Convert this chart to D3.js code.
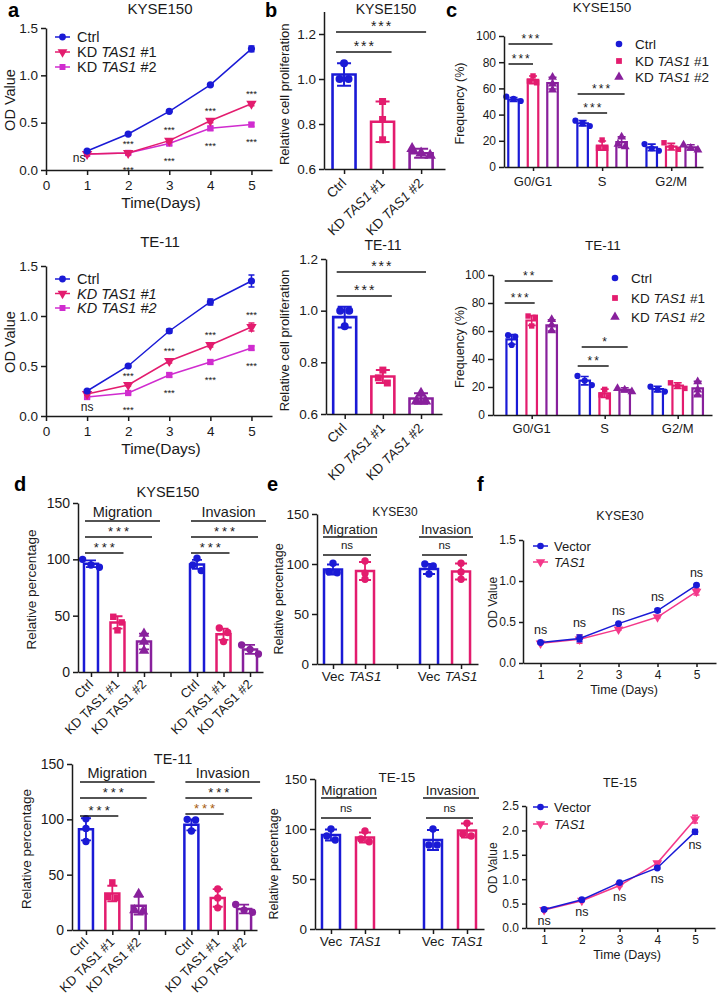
<!DOCTYPE html>
<html><head><meta charset="utf-8">
<script src="https://cdn.jsdelivr.net/npm/d3@7"></script>
<style>body{margin:0;background:#fff}svg{display:block}</style>
</head><body><svg id="c" width="718" height="999"></svg>
<script>
// ================= DATA =================
const days = [1, 2, 3, 4, 5];
const dayTicks = [0, 1, 2, 3, 4, 5];
const odTicks = [0, 0.5, 1.0, 1.5];
const kdLabels = ["Ctrl", "KD TAS1 #1", "KD TAS1 #2"];

// a – KYSE150 growth curve
const aKyseCtrl = [0.20, 0.38, 0.62, 0.90, 1.28];
const aKyseCtrlErr = [0.01, 0.01, 0.01, 0.01, 0.03];
const aKyseKd1 = [0.17, 0.18, 0.31, 0.52, 0.70];
const aKyseKd1Err = [0.01, 0.01, 0.02, 0.02, 0.02];
const aKyseKd2 = [0.17, 0.18, 0.28, 0.44, 0.48];
const aKyseKd2Err = [0.01, 0.01, 0.02, 0.02, 0.02];
const aKyseSig = ["ns", "***", "***", "***", "***"];
// a – TE-11 growth curve
const aTeCtrl = [0.25, 0.50, 0.85, 1.14, 1.35];
const aTeCtrlErr = [0.01, 0.01, 0.02, 0.03, 0.06];
const aTeKd1 = [0.22, 0.31, 0.55, 0.71, 0.89];
const aTeKd1Err = [0.01, 0.01, 0.02, 0.02, 0.04];
const aTeKd2 = [0.19, 0.23, 0.41, 0.54, 0.68];
const aTeKd2Err = [0.01, 0.01, 0.02, 0.02, 0.02];
const aTeSig = ["ns", "***", "***", "***", "***"];

// b – relative cell proliferation
const bTicks = [0.6, 0.8, 1.0, 1.2];
const bKyseMean = [1.02, 0.81, 0.67];
const bKyseErr = [0.05, 0.09, 0.02];
const bKysePts = [[1.00, 1.07, 1.00], [0.90, 0.82, 0.73], [0.69, 0.67, 0.66]];
const bKyseSig = ["***", "***"];
const bTeMean = [0.975, 0.745, 0.66];
const bTeErr = [0.04, 0.025, 0.02];
const bTePts = [[1.00, 1.00, 0.94], [0.77, 0.74, 0.72], [0.68, 0.65, 0.65]];
const bTeSig = ["***", "***"];

// c – cell cycle
const phases = ["G0/G1", "S", "G2/M"];
const freqTicks = [0, 20, 40, 60, 80, 100];
const cKyseMean = [[51.5, 66.5, 64], [33.4, 16.4, 19], [15, 15.5, 15]];
const cKyseErr = [[1.5, 3, 4.5], [2, 3.5, 4], [2.5, 2.5, 2]];
const cKysePts = [
  [[53.7, 52, 50.4], [69.5, 65.6, 64.3], [68.5, 63.4, 58.8]],
  [[35.4, 33.4, 31.3], [20.6, 14.3, 14.3], [23, 17.5, 15.5]],
  [[17.5, 14.3, 12.4], [18.5, 15, 13.5], [16.8, 14.3, 13]]];
const cKyseSig = [["***", "***"], ["***", "***"]];
const cTeMean = [[54, 67.5, 64], [24.5, 15.5, 18], [18.5, 21, 19]];
const cTeErr = [[3.5, 3.5, 4], [3, 3, 1.5], [2, 2, 5]];
const cTePts = [
  [[57, 56, 50], [70.7, 69.8, 63.6], [68.3, 64.3, 60.2]],
  [[27.9, 24.5, 21.4], [18.3, 14.3, 13], [19, 17.9, 16.7]],
  [[20.2, 18.3, 16.7], [23, 20.7, 19], [23.8, 18, 14.3]]];
const cTeSig = [["***", "**"], ["**", "*"]];

// d – migration / invasion after knockdown
const assays = ["Migration", "Invasion"];
const pctTicks = [0, 50, 100, 150];
const dKyseMean = [[96, 44, 27], [95.5, 33.5, 20]];
const dKyseErr = [[3, 5.5, 7], [4, 5, 4]];
const dKysePts = [[[100, 95, 93], [49, 44, 37], [34, 27, 19]], [[101, 95, 90], [39, 35, 27], [24, 20, 16]]];
const dKyseSig = [["***", "***"], ["***", "***"]];
const dTeMean = [[91, 33, 22], [95, 29, 19]];
const dTeErr = [[10, 7, 8], [5, 8, 4]];
const dTePts = [[[100.6, 91.8, 80], [43, 30, 29], [32.7, 18, 16.7]], [[100, 99.4, 89.4], [37, 29, 20], [23, 18, 16]]];
const dTeSig = [["***", "***"], ["***", "***"]];

// e – migration / invasion after overexpression
const ovLabels = ["Vec", "TAS1"];
const eKyseMean = [[94.5, 93], [95, 92.5]];
const eKyseErr = [[5, 9], [5, 8]];
const eKysePts = [[[100.7, 92.3, 91.3], [103, 90.7, 84.7]], [[100, 98, 90], [100.7, 92, 84.7]]];
const eTeMean = [[94, 91.5], [89, 98.5]];
const eTeErr = [[5.5, 5], [10, 7]];
const eTePts = [[[100, 93, 89], [98, 90, 87.3]], [[100, 84, 84], [105.7, 95, 93]]];
const eSig = ["ns", "ns"];

// f – growth after overexpression
const fDayTicks = [1, 2, 3, 4, 5];
const fKyseTicks = [0, 0.5, 1.0, 1.5];
const fTeTicks = [0, 0.5, 1.0, 1.5, 2.0, 2.5];
const fKyseVec = [0.25, 0.30, 0.48, 0.64, 0.95];
const fKyseVecErr = [0.01, 0.04, 0.01, 0.02, 0.01];
const fKyseTas = [0.24, 0.29, 0.41, 0.56, 0.87];
const fKyseTasErr = [0.01, 0.05, 0.01, 0.01, 0.04];
const fTeVec = [0.38, 0.58, 0.93, 1.23, 1.97];
const fTeVecErr = [0.02, 0.02, 0.02, 0.02, 0.05];
const fTeTas = [0.37, 0.56, 0.87, 1.33, 2.23];
const fTeTasErr = [0.02, 0.02, 0.02, 0.03, 0.08];
const fSig = ["ns", "ns", "ns", "ns", "ns"];
const ovLegend = ["Vector", "TAS1"];

// ================= STYLE / HELPERS =================
const FONT = '"Liberation Sans", Arial, Helvetica, sans-serif';
const INK = "#1a1a1a";
const BLUE = "#1a1ad6", PINK = "#e31c6e", MAG = "#d02ccf", PURP = "#88209c", FPINK = "#f4388a";
const svg = d3.select("#c").attr("font-family", FONT);

function styleAxis(s, fs) {
  s.attr("font-family", FONT);
  s.select(".domain").attr("stroke", INK).attr("stroke-width", 1.5);
  s.selectAll(".tick line").attr("stroke", INK).attr("stroke-width", 1.5);
  s.selectAll(".tick text").attr("font-size", fs).attr("fill", INK);
}
function rich(t, label, mode) { // mode: "none" | "all" | default (TAS1 italic)
  if (mode === "all") { t.append("tspan").text(label).attr("font-style", "italic"); return t; }
  if (mode === "none") { t.text(label); return t; }
  label.split(/(TAS1)/).filter(p => p).forEach(p =>
    t.append("tspan").text(p).attr("font-style", p === "TAS1" ? "italic" : null));
  return t;
}
function text(g, x, y, s, fs, opt = {}) {
  const t = g.append("text").attr("x", x).attr("y", y).attr("font-size", fs)
    .attr("fill", opt.fill || INK).attr("text-anchor", opt.anchor || "middle");
  if (opt.weight) t.attr("font-weight", opt.weight);
  if (opt.rot != null) t.attr("transform", `rotate(${opt.rot},${x},${y})`);
  rich(t, s, opt.mode || "none");
  return t;
}
function sigText(g, x, cy, s, fs, ls, fill) {
  const star = s.includes("*");
  const t = g.append("text").attr("x", x + (ls || 0) / 2).attr("y", cy + (star ? 0.6 : 0.27) * fs)
    .attr("font-size", fs).attr("text-anchor", "middle").attr("fill", fill || INK).text(s);
  if (ls) t.attr("letter-spacing", ls);
  return t;
}
function hline(g, x1, x2, y, w) {
  g.append("line").attr("x1", x1).attr("x2", x2).attr("y1", y).attr("y2", y)
    .attr("stroke", INK).attr("stroke-width", w || 1.5);
}
function symPath(shape, r) {
  if (shape === "circle") return d3.symbol(d3.symbolCircle, Math.PI * r * r)();
  if (shape === "square") return d3.symbol(d3.symbolSquare, (1.75 * r) ** 2)();
  return d3.symbol(d3.symbolTriangle, Math.PI * r * r * 1.15)();
}
function mark(g, shape, cx, cy, r, color) {
  const down = shape === "tridown";
  g.append("path").attr("d", symPath(down ? "tri" : shape, r))
    .attr("transform", `translate(${cx},${cy})${down ? " rotate(180)" : ""}`).attr("fill", color);
}
function spread(vals, y, gap) {
  const idx = vals.map((v, i) => ({ i, py: y(v) })).sort((a, b) => a.py - b.py);
  const offs = vals.map(() => 0);
  const clusters = []; let cur = [idx[0]];
  for (let k = 1; k < idx.length; k++) {
    if (idx[k].py - cur[cur.length - 1].py < gap * 0.7) cur.push(idx[k]);
    else { clusters.push(cur); cur = [idx[k]]; }
  }
  clusters.push(cur);
  clusters.forEach(c => c.forEach((p, j) => offs[p.i] = (j - (c.length - 1) / 2) * gap));
  return offs;
}

function linePanel(o) {
  const g = svg.append("g");
  const x = d3.scaleLinear().domain(o.xDom).range([o.left, o.right]);
  const y = d3.scaleLinear().domain(o.yDom).range([o.bottom, o.top]);
  const xa = g.append("g").attr("transform", `translate(0,${o.bottom})`)
    .call(d3.axisBottom(x).tickValues(o.xTicks).tickFormat(d3.format("d")).tickSize(o.tick || 5).tickSizeOuter(0).tickPadding(o.xPad));
  styleAxis(xa, o.fs);
  const ya = g.append("g").attr("transform", `translate(${o.left},0)`)
    .call(d3.axisLeft(y).tickValues(o.yTicks).tickFormat(d3.format(".1f")).tickSize(o.tick || 5).tickSizeOuter(0).tickPadding(3));
  styleAxis(ya, o.fs);
  o.series.forEach(s => {
    const pts = o.xs.map((d, i) => ({ d, v: s.v[i], e: s.e[i] }));
    g.append("path").datum(pts).attr("fill", "none").attr("stroke", s.color).attr("stroke-width", 1.5)
      .attr("d", d3.line().x(p => x(p.d)).y(p => y(p.v)));
    pts.forEach(p => {
      const cx = x(p.d), y1 = y(p.v + p.e), y2 = y(p.v - p.e);
      g.append("path").attr("d", `M${cx},${y1}V${y2}M${cx - 3},${y1}H${cx + 3}M${cx - 3},${y2}H${cx + 3}`)
        .attr("stroke", s.color).attr("stroke-width", 1.5).attr("fill", "none");
      mark(g, s.shape, cx, y(p.v), o.r, s.color);
    });
  });
  return { g, x, y };
}
function lineLegend(g, items, x0, x1, tx, ys, fs, r, mode) {
  items.forEach((it, i) => {
    g.append("line").attr("x1", x0).attr("x2", x1).attr("y1", ys[i]).attr("y2", ys[i])
      .attr("stroke", it.color).attr("stroke-width", 1.5);
    mark(g, it.shape, (x0 + x1) / 2, ys[i], r, it.color);
    const t = g.append("text").attr("x", tx).attr("y", ys[i] + fs * 0.36).attr("font-size", fs).attr("fill", INK);
    rich(t, it.label, i === 0 ? "none" : mode);
  });
}
function barPanel(o) {
  const g = svg.append("g");
  const x = d3.scaleLinear().domain(o.xDom).range([o.left, o.right]);
  const y = d3.scaleLinear().domain(o.yDom).range([o.bottom, o.top]);
  o.bars.forEach(b => {
    const cx = x(b.pos) + (b.off || 0), yt = y(b.mean), hw = o.barW / 2;
    b.cx = cx;
    g.append("path").attr("d", `M${cx - hw},${o.bottom}V${yt}H${cx + hw}V${o.bottom}`)
      .attr("fill", "#fff").attr("stroke", b.color).attr("stroke-width", o.sw).attr("stroke-linejoin", "miter");
    const e1 = y(b.mean + b.err), e2 = y(b.mean - b.err), cw = o.capW / 2;
    g.append("path").attr("d", `M${cx},${e1}V${e2}M${cx - cw},${e1}H${cx + cw}M${cx - cw},${e2}H${cx + cw}`)
      .attr("stroke", b.color).attr("stroke-width", o.esw).attr("fill", "none");
    const offs = spread(b.pts, y, o.r * 2 + 1);
    b.pts.forEach((v, i) => mark(g, b.shape, cx + offs[i], y(v), o.r, b.color));
  });
  const xa = g.append("g").attr("transform", `translate(0,${o.bottom})`)
    .call(d3.axisBottom(x).tickValues(o.xTicks).tickFormat("").tickSize(o.tick || 5).tickSizeOuter(0));
  styleAxis(xa, 12);
  const ya = g.append("g").attr("transform", `translate(${o.left},0)`)
    .call(d3.axisLeft(y).tickValues(o.yTicks).tickFormat(o.yFmt).tickSize(5).tickSizeOuter(0).tickPadding(3));
  styleAxis(ya, o.fs);
  return { g, x, y };
}

// ================= PANEL LETTERS =================
const L = svg.append("g");
[["a", 8, 17], ["b", 265, 17], ["c", 446, 17], ["d", 14, 491], ["e", 267, 491], ["f", 477, 491]]
  .forEach(([s, x, y]) => text(L, x, y, s, 20, { anchor: "start", weight: "bold", fill: "#000" }));

// ================= PANEL a =================
function panelA(o) {
  const P = linePanel({ left: 46, right: 272, top: o.top, bottom: o.bottom, xDom: [0, 5.5], yDom: [0, 1.5],
    xTicks: dayTicks, yTicks: odTicks, xs: days, fs: 13.5, xPad: 5, r: 3.6,
    series: [
      { v: o.kd2, e: o.kd2Err, color: MAG, shape: "square" },
      { v: o.kd1, e: o.kd1Err, color: PINK, shape: "tridown" },
      { v: o.ctrl, e: o.ctrlErr, color: BLUE, shape: "circle" }] });
  const { g, x, y } = P;
  text(g, 160, o.titleY, o.title, 15);
  text(g, 15, (o.top + o.bottom) / 2 + 1, "OD Value", 14.5, { rot: -90 });
  text(g, 161, o.bottom + 38, "Time(Days)", 15.5);
  lineLegend(g, [
    { label: kdLabels[0], color: BLUE, shape: "circle" },
    { label: kdLabels[1], color: PINK, shape: "tridown" },
    { label: kdLabels[2], color: MAG, shape: "square" }], 55, 70, 77, o.legY, 14.5, 3.4, o.legMode);
  o.sig.forEach((s, i) => {
    if (s === "ns") {
      sigText(g, x(days[i]) + o.nsDx, y(Math.min(o.kd2[i], o.kd1[i])) + o.nsDy, s, 12);
    } else {
      sigText(g, x(days[i]), y(o.kd1[i] + o.kd1Err[i]) - 11, s, 9.5);
      sigText(g, x(days[i]), y(o.kd2[i] - o.kd2Err[i]) + 13, s, 9.5);
    }
  });
}
panelA({ top: 28, bottom: 170, title: "KYSE150", titleY: 14, legY: [37, 52, 67], legMode: "tas",
  ctrl: aKyseCtrl, ctrlErr: aKyseCtrlErr, kd1: aKyseKd1, kd1Err: aKyseKd1Err, kd2: aKyseKd2, kd2Err: aKyseKd2Err,
  sig: aKyseSig, nsDx: -8, nsDy: 5 });
panelA({ top: 266, bottom: 416, title: "TE-11", titleY: 247, legY: [279, 293.5, 308], legMode: "all",
  ctrl: aTeCtrl, ctrlErr: aTeCtrlErr, kd1: aTeKd1, kd1Err: aTeKd1Err, kd2: aTeKd2, kd2Err: aTeKd2Err,
  sig: aTeSig, nsDx: 0, nsDy: 11 });

// ================= PANEL b =================
function panelB(o) {
  const cols = [BLUE, PINK, PURP], shapes = ["circle", "square", "tri"];
  const bars = o.mean.map((m, i) => ({ pos: i, mean: m, err: o.err[i], pts: o.pts[i], color: cols[i], shape: shapes[i] }));
  const { g, x, y } = barPanel({ left: o.left, right: o.right, top: o.top, bottom: o.bottom, xDom: o.xDom, yDom: o.yDom,
    yTicks: bTicks, yFmt: d3.format(".1f"), xTicks: [0, 1, 2], fs: 13.5, barW: 23, sw: 2.6, capW: 14, esw: 2, r: 4, bars });
  text(g, o.titleX, o.titleY, o.title, 14);
  text(g, 289, (o.bottom + o.top) / 2 + 4, "Relative cell proliferation", 13, { rot: -90 });
  kdLabels.forEach((lab, i) => {
    const ex = x(i) + 3, ey = o.bottom + 15;
    const t = g.append("text").attr("font-size", 13.5).attr("fill", INK).attr("text-anchor", "end")
      .attr("transform", `translate(${ex},${ey}) rotate(-45)`);
    rich(t, lab, "tas");
  });
  const x0 = x(0) - 8;
  [[1, o.l1, 9], [2, o.l2, 5]].forEach(([j, ly, ext], k) => {
    const x2 = x(j) + ext;
    hline(g, x0, x2, ly, 1.6);
    sigText(g, (x0 + x2) / 2, ly - 9, o.sig[k], 14, 2);
  });
}
panelB({ left: 324, right: 445, top: 11.5, bottom: 169, xDom: [-0.52, 2.62], yDom: [0.6, 1.3],
  mean: bKyseMean, err: bKyseErr, pts: bKysePts, sig: bKyseSig, title: "KYSE150", titleX: 386, titleY: 14, l1: 52, l2: 32 });
panelB({ left: 326, right: 442, top: 259, bottom: 414, xDom: [-0.49, 2.55], yDom: [0.6, 1.2],
  mean: bTeMean, err: bTeErr, pts: bTePts, sig: bTeSig, title: "TE-11", titleX: 383, titleY: 250, l1: 296, l2: 272 });

// ================= PANEL c =================
function panelC(o) {
  const cols = [BLUE, PINK, PURP], shapes = ["circle", "square", "tri"];
  const bars = [];
  o.mean.forEach((grp, gi) => grp.forEach((m, k) => bars.push({ pos: gi, off: (k - 1) * o.inner, mean: m,
    err: o.err[gi][k], pts: o.pts[gi][k], color: cols[k], shape: shapes[k] })));
  const { g, x, y } = barPanel({ left: o.left, right: o.right, top: o.top, bottom: o.bottom, xDom: o.xDom, yDom: [0, 100],
    yTicks: freqTicks, yFmt: d3.format("d"), xTicks: [0, 1, 2], tick: 4, fs: 12, barW: 10.5, sw: 2.2, capW: 8, esw: 1.6, r: 3.1, bars });
  const bx = (gi, k) => x(gi) + (k - 1) * o.inner;
  text(g, o.titleX, o.titleY, o.title, 13.5);
  text(g, 464, (o.top + o.bottom) / 2 + 2, "Frequency (%)", 12.5, { rot: -90 });
  phases.forEach((p, i) => text(g, x(i), o.bottom + o.labDy, p, 13));
  o.lines.forEach(L => {
    const x1 = bx(L.g, 0) + L.a, x2 = bx(L.g, L.k) + L.b;
    hline(g, x1, x2, L.y, 1.5);
    sigText(g, (x1 + x2) / 2, L.y - 8, o.sig[L.g][L.k - 1], 12, 2);
  });
  const legItems = [["circle", BLUE], ["square", PINK], ["tri", PURP]];
  legItems.forEach(([sh, col], i) => {
    mark(g, sh, o.legX, o.legY[i], 3.3, col);
    const t = g.append("text").attr("x", o.legX + 16).attr("y", o.legY[i] + 5).attr("font-size", 13.5).attr("fill", INK);
    rich(t, kdLabels[i], "tas");
  });
}
panelC({ left: 504, right: 703, top: 36, bottom: 167, xDom: [-0.42, 2.46], inner: 19.5,
  mean: cKyseMean, err: cKyseErr, pts: cKysePts, sig: cKyseSig, title: "KYSE150", titleX: 602, titleY: 12, labDy: 19,
  legX: 619, legY: [44, 61, 77],
  lines: [{ g: 0, k: 1, y: 64, a: -5, b: 0 }, { g: 0, k: 2, y: 44, a: -5, b: 0 },
          { g: 1, k: 1, y: 113, a: -5, b: 5 }, { g: 1, k: 2, y: 94, a: -5, b: 3 }] });
panelC({ left: 493, right: 712, top: 275, bottom: 415, xDom: [-0.53, 2.47], inner: 20,
  mean: cTeMean, err: cTeErr, pts: cTePts, sig: cTeSig, title: "TE-11", titleX: 603, titleY: 250, labDy: 18,
  legX: 615, legY: [278, 298, 317],
  lines: [{ g: 0, k: 1, y: 303, a: -7, b: 3 }, { g: 0, k: 2, y: 281, a: -7, b: 1 },
          { g: 1, k: 1, y: 366, a: -7, b: 4 }, { g: 1, k: 2, y: 347, a: -3, b: 3 }] });

// ================= PANEL d =================
function panelD(o) {
  const cols = [BLUE, PINK, PURP];
  const shp = [["circle", "square", "tri"], ["circle", "circle", "circle"]];
  const bars = [];
  o.mean.forEach((grp, ai) => grp.forEach((m, k) => bars.push({ pos: ai * 4 + k, mean: m, err: o.err[ai][k],
    pts: o.pts[ai][k], color: cols[k], shape: shp[ai][k] })));
  const { g, x, y } = barPanel({ left: o.left, right: o.right, top: o.top, bottom: o.bottom, xDom: o.xDom, yDom: [0, 150],
    yTicks: pctTicks, yFmt: d3.format("d"), xTicks: [0, 1, 2, 3, 4, 5, 6], fs: 14, barW: 14, sw: 2.5, capW: 10, esw: 1.8, r: 3.7, bars });
  text(g, o.titleX, o.titleY, o.title, 14.5);
  text(g, o.ylabX, (o.top + o.bottom) / 2 + 2, "Relative percentage", 13.5, { rot: -90 });
  [0, 1, 2, 4, 5, 6].forEach(p => {
    const t = g.append("text").attr("font-size", 13).attr("fill", INK).attr("text-anchor", "end")
      .attr("transform", `translate(${x(p) + 3},${o.bottom + 13}) rotate(-45)`);
    rich(t, kdLabels[p % 4], "none");
  });
  assays.forEach((a, ai) => {
    const b0 = x(ai * 4), b1 = x(ai * 4 + 1), b2 = x(ai * 4 + 2);
    const u1 = b0 - 6, u2 = b2 + 16;
    hline(g, u1, u2, o.uy, 1.6);
    text(g, (u1 + u2) / 2, o.uy - 4, a, 14.5);
    const s1 = b0 - 6, s2 = b2 + 8;
    hline(g, s1, s2, o.l2, 1.6);
    sigText(g, (s1 + s2) / 2, o.l2 - 9, o.sig[ai][1], 13, 3);
    const t2 = b1 + 6;
    hline(g, s1, t2, o.l3[ai], 1.6);
    sigText(g, (s1 + t2) / 2, o.l3[ai] - 9, o.sig[ai][0], 13, 3, ai === 1 ? o.invCol : INK);
  });
}
panelD({ left: 78, right: 263, top: 503, bottom: 672, xDom: [-0.49, 6.49], mean: dKyseMean, err: dKyseErr, pts: dKysePts,
  sig: dKyseSig, title: "KYSE150", titleX: 168, titleY: 497, ylabX: 36, uy: 521, l2: 537, l3: [553, 553], invCol: INK });
panelD({ left: 72, right: 257, top: 764, bottom: 930, xDom: [-0.53, 6.49], mean: dTeMean, err: dTeErr, pts: dTePts,
  sig: dTeSig, title: "TE-11", titleX: 173, titleY: 764, ylabX: 31, uy: 782, l2: 798, l3: [816, 814], invCol: "#a8600e" });

// ================= PANEL e =================
function panelE(o) {
  const cols = [BLUE, PINK];
  const bars = [];
  o.mean.forEach((grp, ai) => grp.forEach((m, k) => bars.push({ pos: ai * 3 + k, mean: m, err: o.err[ai][k],
    pts: o.pts[ai][k], color: cols[k], shape: "circle" })));
  const { g, x, y } = barPanel({ left: o.left, right: o.right, top: o.top, bottom: o.bottom, xDom: o.xDom, yDom: [0, 150],
    yTicks: pctTicks, yFmt: d3.format("d"), xTicks: [0, 1, 2, 3, 4], fs: 13.5, barW: 18, sw: 2.5, capW: 12, esw: 1.8, r: 3.7, bars });
  text(g, o.titleX, o.titleY, o.title, o.titleFs);
  text(g, o.ylabX, (o.top + o.bottom) / 2 + 10, "Relative percentage", 12.5, { rot: -90 });
  [0, 1, 3, 4].forEach(p => text(g, x(p), o.bottom + 17, ovLabels[p % 3], 13.5, { mode: "tas" }));
  assays.forEach((a, ai) => {
    const b0 = x(ai * 3), b1 = x(ai * 3 + 1);
    const u1 = b0 - 10, u2 = b1 + 12;
    hline(g, u1, u2, o.uy, 1.5);
    text(g, (u1 + u2) / 2, o.uy - 3, a, 13.5);
    const n1 = b0 - (ai ? 7 : 10), n2 = b1 + 6;
    hline(g, n1, n2, o.ny, 1.5);
    sigText(g, (n1 + n2) / 2, o.ny - 9, eSig[ai], 11.5);
  });
}
panelE({ left: 317, right: 478, top: 514, bottom: 664, xDom: [-0.5, 4.53], mean: eKyseMean, err: eKyseErr, pts: eKysePts,
  title: "KYSE30", titleX: 395, titleY: 516, titleFs: 12, ylabX: 283, uy: 537, ny: 555 });
panelE({ left: 315, right: 484, top: 779, bottom: 929, xDom: [-0.47, 4.5], mean: eTeMean, err: eTeErr, pts: eTePts,
  title: "TE-15", titleX: 397, titleY: 782, titleFs: 13.5, ylabX: 278, uy: 798, ny: 818 });

// ================= PANEL f =================
function panelF(o) {
  const { g, x, y } = linePanel({ left: o.left, right: o.right, top: o.top, bottom: o.bottom, xDom: o.xDom, yDom: o.yDom,
    xTicks: fDayTicks, yTicks: o.yTicks, xs: days, fs: 12, xPad: 3, tick: 4, r: 3.4,
    series: [
      { v: o.tas, e: o.tasErr, color: FPINK, shape: "tridown" },
      { v: o.vec, e: o.vecErr, color: BLUE, shape: "circle" }] });
  text(g, 620, o.titleY, o.title, 12.5);
  text(g, 497, (o.top + o.bottom) / 2 + 1, "OD Value", 12, { rot: -90 });
  text(g, o.xtX, o.bottom + 31, "Time (Days)", 12.5);
  lineLegend(g, [{ label: ovLegend[0], color: BLUE, shape: "circle" }, { label: ovLegend[1], color: FPINK, shape: "tridown" }],
    533, 548, 554, o.legY, 13, 3.3, "tas");
  fSig.forEach((s, i) => {
    const cy = o.above ? y(Math.max(o.vec[i] + o.vecErr[i], o.tas[i] + o.tasErr[i])) - 11
                       : y(Math.min(o.vec[i] - o.vecErr[i], o.tas[i] - o.tasErr[i])) + 11;
    sigText(g, x(days[i]), cy, s, 12.5);
  });
}
panelF({ left: 523, right: 716, top: 540, bottom: 663, xDom: [0.55, 5.5], yDom: [0, 1.5], yTicks: fKyseTicks,
  vec: fKyseVec, vecErr: fKyseVecErr, tas: fKyseTas, tasErr: fKyseTasErr, title: "KYSE30", titleY: 520,
  xtX: 624, legY: [546, 562], above: true });
panelF({ left: 526, right: 715, top: 806, bottom: 928, xDom: [0.52, 5.53], yDom: [0, 2.5], yTicks: fTeTicks,
  vec: fTeVec, vecErr: fTeVecErr, tas: fTeTas, tasErr: fTeTasErr, title: "TE-15", titleY: 787,
  xtX: 627, legY: [807, 824], above: false });
</script>
</body></html>
